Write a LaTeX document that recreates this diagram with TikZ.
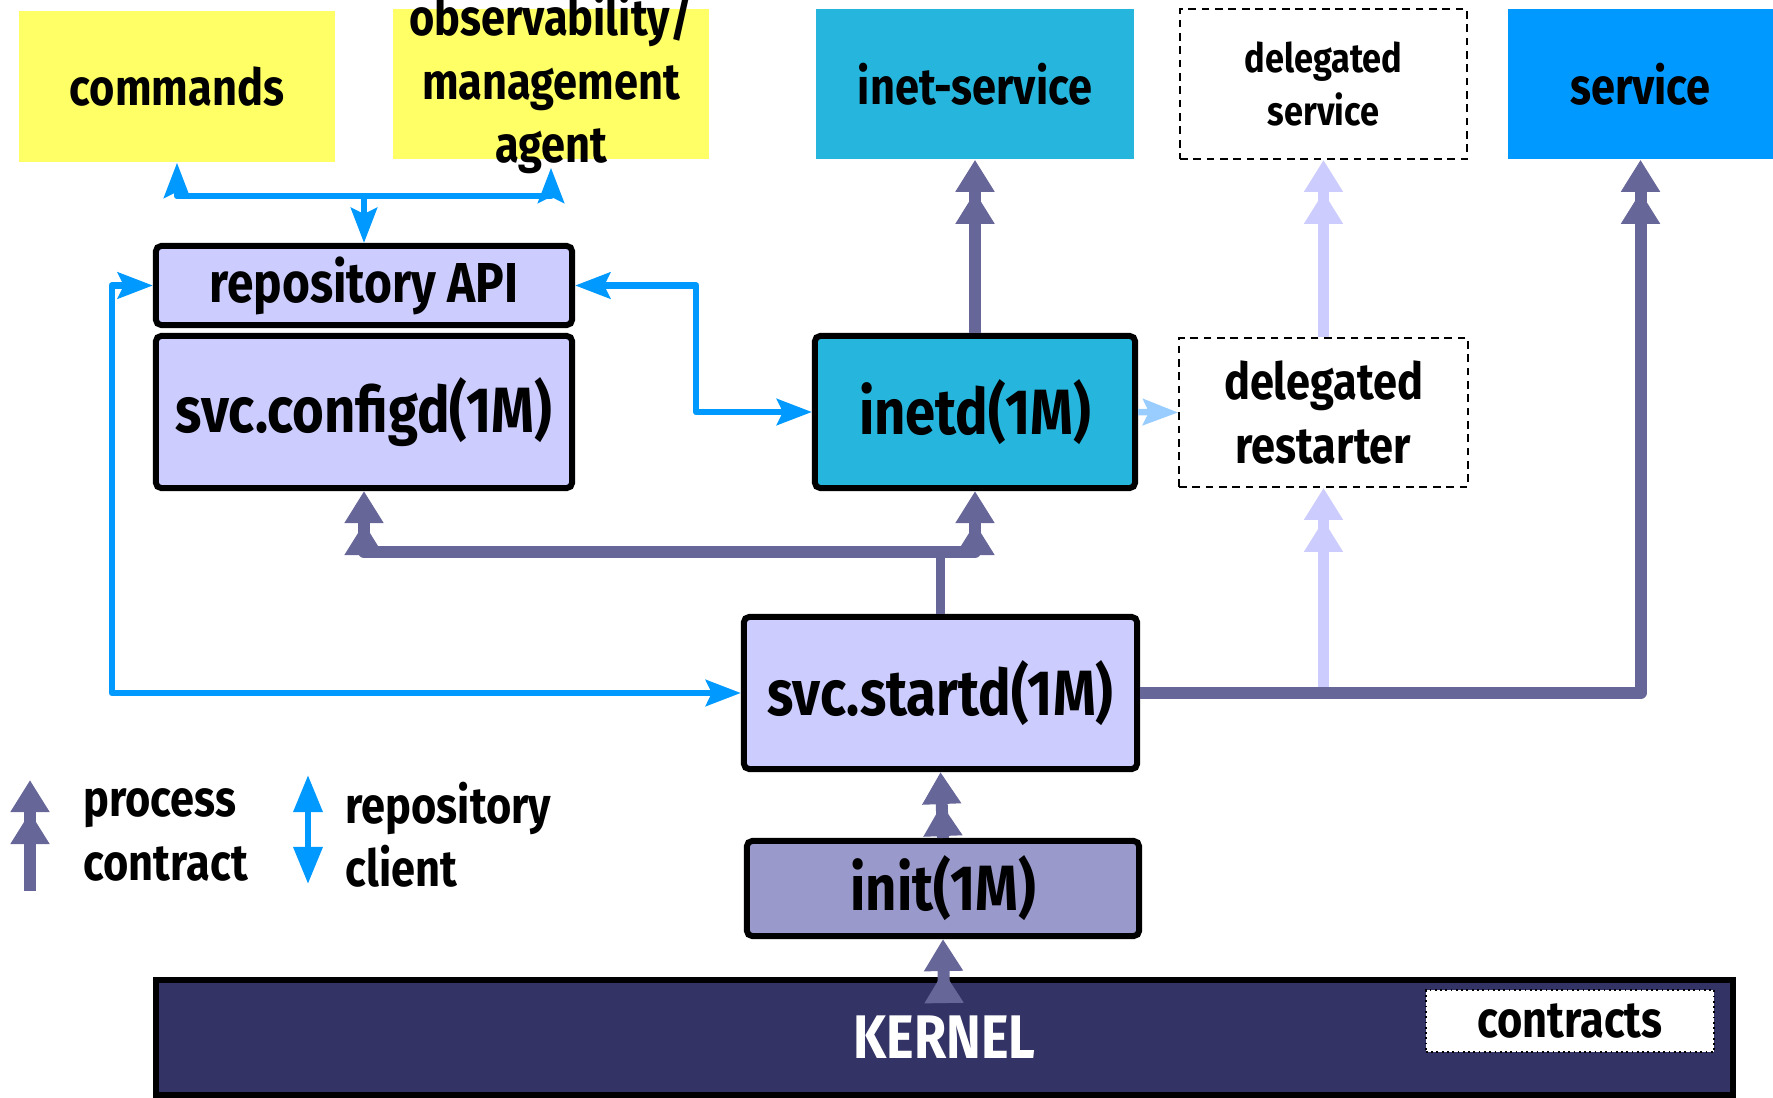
\documentclass[tikz,border=0pt]{standalone}
\usepackage{fontspec}
\setmainfont{Fira Sans}[FakeStretch=0.85]
\usetikzlibrary{arrows.meta}

\definecolor{memoyellow}{HTML}{FFFF66}
\definecolor{inetcyan}{HTML}{26B6DD}
\definecolor{svcblue}{HTML}{0099FF}
\definecolor{daemonlav}{HTML}{CCCCFF}
\definecolor{initlav}{HTML}{9999CC}
\definecolor{kernelnavy}{HTML}{333366}
\definecolor{contractgray}{HTML}{666699}
\definecolor{delegblue}{HTML}{99CCFF}

\newcommand{\biglabel}{\fontsize{18.2}{21}\selectfont\bfseries}
\newcommand{\replabel}{\fontsize{16}{19}\selectfont\bfseries}
\newcommand{\midlabel}{\fontsize{14.5}{18}\selectfont\bfseries}
\newcommand{\smalllabel}{\fontsize{11.5}{14.8}\selectfont\bfseries}

\tikzset{
    pctip/.tip={Triangle[length=0.32cm,width=0.37cm]Triangle[length=0.32cm,width=0.37cm]},
    cltip/.tip={Stealth[length=0.35cm,width=0.26cm,inset=0.06cm]},
    bigcltip/.tip={Triangle[length=0.37cm,width=0.28cm]}
}

\begin{document}
\begin{tikzpicture}[
    x=0.01cm, y=-0.01cm,
    outside/.style={
        align=center,
        inner sep=0pt,
        font=\midlabel
    },
    delegbox/.style={
        draw,
        dash pattern=on 2.2pt off 1.6pt,
        line width=0.5pt,
        fill=white,
        align=center,
        inner sep=0pt
    },
    daemon/.style={
        draw,
        line width=1.7pt,
        rounded corners=1.5pt,
        fill=daemonlav,
        align=center,
        inner sep=0pt,
        font=\biglabel
    },
    legendtxt/.style={anchor=west, align=left, inner sep=0pt, font=\midlabel},
    contract/.style={line width=3.4pt, draw=contractgray, line join=round},
    lavcontract/.style={line width=3.4pt, draw=daemonlav, line join=round},
    client/.style={line width=1.85pt, draw=svcblue, line join=round}
]
\useasboundingbox (0,0) rectangle (1773,1097);

\node[outside, fill=memoyellow, minimum width=3.16cm, minimum height=1.51cm] (commands) at (177,86.5) {commands};
\node[outside, fill=memoyellow, inner ysep=-0.3cm, minimum width=3.16cm, minimum height=1.50cm] (obs) at (551,84) {observability/\\management\\agent};
\node[outside, fill=inetcyan, minimum width=3.18cm, minimum height=1.50cm] (inetsvc) at (975,84) {inet-service};
\node[delegbox, font=\smalllabel, minimum width=2.87cm, minimum height=1.50cm] (dsvc) at (1323.5,84) {delegated\\service};
\node[outside, fill=svcblue, minimum width=2.65cm, minimum height=1.50cm] (svc) at (1640.5,84) {service};

\node[daemon, font=\replabel, minimum width=4.16cm, minimum height=0.79cm] (rep) at (364,285.5) {repository API};
\node[daemon, minimum width=4.16cm, minimum height=1.52cm] (configd) at (364,412) {svc.configd(1M)};
\node[daemon, fill=inetcyan, minimum width=3.20cm, minimum height=1.52cm] (inetd) at (975,412) {inetd(1M)};
\node[delegbox, font=\midlabel, minimum width=2.89cm, minimum height=1.49cm] (drest) at (1323.5,412.5) {delegated\\restarter};
\node[daemon, minimum width=3.93cm, minimum height=1.52cm] (startd) at (940.5,693) {svc.startd(1M)};
\node[daemon, fill=initlav, minimum width=3.92cm, minimum height=0.95cm] (init) at (943,888.5) {init(1M)};
\node[daemon, fill=kernelnavy, text=white, font=\fontsize{17.5}{21}\selectfont\bfseries, rounded corners=0pt, minimum width=15.77cm, minimum height=1.15cm] (kernel) at (944.5,1037.5) {KERNEL};
\node[outside, fill=white, draw, densely dotted, line width=0.5pt, minimum width=2.88cm, minimum height=0.62cm] (contracts) at (1570,1021) {contracts};

\coordinate (repfork) at (364,196);
\coordinate (startfork) at (940.5,552);
\coordinate (kerneltap) at (944,1000);

\draw[client, -cltip] (repfork) -- (rep.north);
\draw[client, cltip-cltip] (commands.south) |- (repfork) -| ([yshift=-0.08cm]obs.south);
\draw[client, cltip-cltip] (rep.east) -- ++(121,0) |- (inetd.west);
\draw[client, cltip-cltip] (rep.west) -- ++(-41,0) |- (startd.west);
\draw[client, draw=delegblue, -cltip] (inetd.east) -- (drest.west);

\draw[lavcontract, -pctip] (startd.east -| drest.south) -- (drest.south);
\draw[lavcontract, -pctip] (drest.north) -- (dsvc.south);
\draw[contract, line width=2.6pt] (startd.north) -- (startfork);
\draw[contract, pctip-pctip] (configd.south) |- (startfork) -| (inetd.south);
\draw[contract, -pctip] (inetd.north) -- (inetsvc.south);
\draw[contract, -pctip] (startd.east) -| (svc.south);
\draw[contract, -pctip] (init.north) -- (startd.south);
\draw[contract, -pctip] (kerneltap) -- (init.south);

\coordinate (pclegbot) at (30,891);
\coordinate (pclegtop) at (30,780);
\coordinate (rclegbot) at (308,884);
\coordinate (rclegtop) at (308,775);
\draw[contract, -pctip] (pclegbot) -- (pclegtop);
\draw[client, bigcltip-bigcltip] (rclegbot) -- (rclegtop);
\node[legendtxt] (pclegtxt) at (83,835) {process\\contract};
\node[legendtxt] (rclegtxt) at (345,835) {repository\\client};

\end{tikzpicture}
\end{document}
